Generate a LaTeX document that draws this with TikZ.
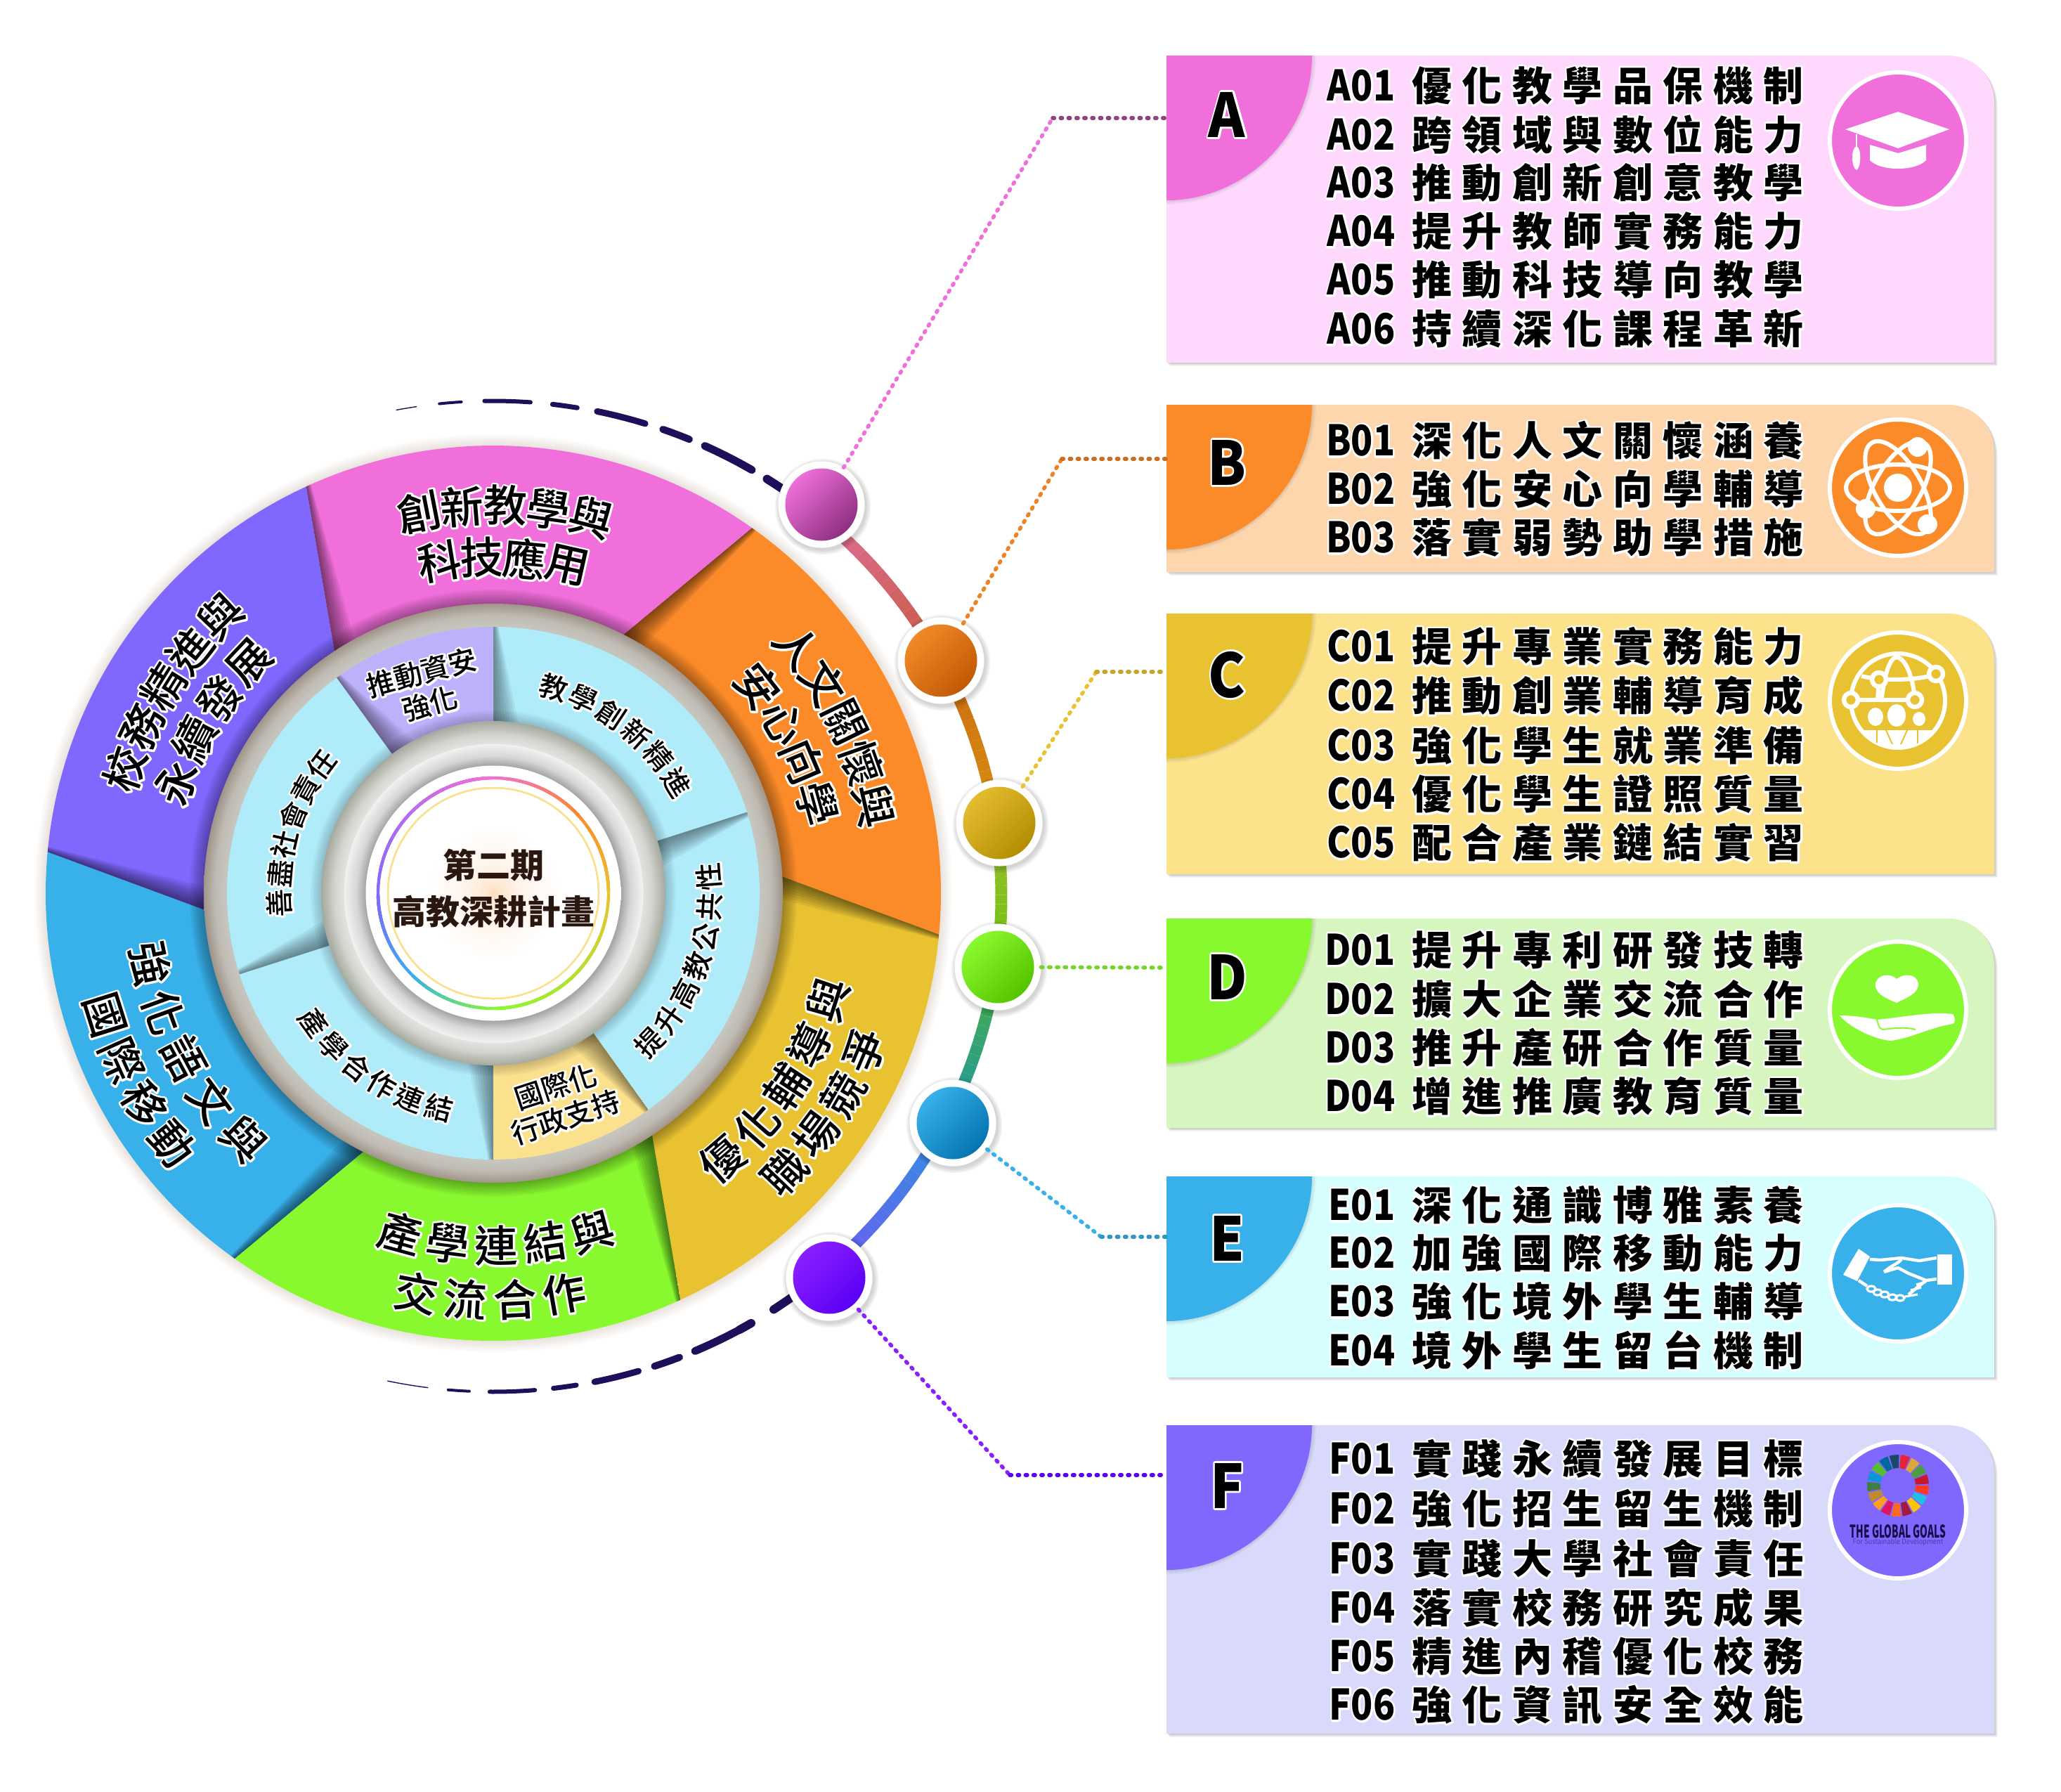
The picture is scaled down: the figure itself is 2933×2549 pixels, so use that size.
\documentclass[tikz,border=0pt]{standalone}
\usepackage{fontspec}
\newfontfamily\cjk{Noto Sans CJK TC}
\newfontfamily\cjkmed{Noto Sans CJK TC Medium}
\newfontfamily\cjkblack{Noto Sans CJK TC Black}
\newfontfamily\spaced{Noto Sans CJK TC}[LetterSpace=25.4]

\definecolor{cA}{HTML}{F06FDB}
\definecolor{cB}{HTML}{FB8A28}
\definecolor{cC}{HTML}{E9C232}
\definecolor{cD}{HTML}{89F92F}
\definecolor{cE}{HTML}{38B0EA}
\definecolor{cF}{HTML}{8067FE}
\definecolor{bgA}{HTML}{FED8FD}
\definecolor{bgB}{HTML}{FDD6AE}
\definecolor{bgC}{HTML}{FDE28C}
\definecolor{bgD}{HTML}{D7F5BE}
\definecolor{bgE}{HTML}{D7FEFF}
\definecolor{bgF}{HTML}{D9D9FC}
\definecolor{sky}{HTML}{B0EBFA}
\definecolor{lav}{HTML}{BDB1FC}
\definecolor{sand}{HTML}{FBE08E}
\definecolor{navy}{HTML}{1F0F5A}
\definecolor{inkbrown}{HTML}{2A1810}
\definecolor{bandA}{HTML}{C6C7C0}
\definecolor{bandB}{HTML}{BFBBB3}
\definecolor{bandC}{HTML}{A09488}
\definecolor{hubA}{HTML}{A5A99D}
\definecolor{hubB}{HTML}{D4D5CF}
\definecolor{hubC}{HTML}{E2E3DF}
\definecolor{hubD}{HTML}{F2F2F2}
\definecolor{hubE}{HTML}{D6D6D6}
\definecolor{hubF}{HTML}{A6A6A6}
\definecolor{glowA}{HTML}{FFDDBE}
\definecolor{glowB}{HTML}{FFE9D6}
\definecolor{glowC}{HTML}{FFF5EC}
\definecolor{dotAa}{HTML}{EE6FD9}\definecolor{dotAb}{HTML}{8E2F80}
\definecolor{dotBa}{HTML}{F08A28}\definecolor{dotBb}{HTML}{C25A05}
\definecolor{dotCa}{HTML}{E4BC30}\definecolor{dotCb}{HTML}{B38E00}
\definecolor{dotDa}{HTML}{8AF92F}\definecolor{dotDb}{HTML}{55C400}
\definecolor{dotEa}{HTML}{38B0EA}\definecolor{dotEb}{HTML}{0474B0}
\definecolor{dotFa}{HTML}{8A1FFF}\definecolor{dotFb}{HTML}{5A00F5}
\definecolor{arcA}{HTML}{E070A0}\definecolor{arcB}{HTML}{C85A40}
\definecolor{arcC}{HTML}{C86810}\definecolor{arcD}{HTML}{D89010}
\definecolor{arcE}{HTML}{A0C030}\definecolor{arcF}{HTML}{6CC010}
\definecolor{arcG}{HTML}{4AB040}\definecolor{arcH}{HTML}{2098A0}
\definecolor{arcI}{HTML}{3090E0}\definecolor{arcJ}{HTML}{6A5FF0}

\pgfdeclareradialshading{bandshade}{\pgfpoint{0bp}{0bp}}{color(0bp)=(bandA);color(23bp)=(bandA);color(24bp)=(bandB);color(25bp)=(bandC);color(50bp)=(bandC)}
\pgfdeclareradialshading{hubshade}{\pgfpoint{0bp}{0bp}}{color(0bp)=(hubF);color(18.6bp)=(hubF);color(19.9bp)=(hubE);color(21.7bp)=(hubD);color(21.75bp)=(hubC);color(23bp)=(hubB);color(25bp)=(hubA);color(50bp)=(hubA)}
\pgfdeclareradialshading{glowshade}{\pgfpoint{0bp}{0bp}}{color(0bp)=(glowA);color(2bp)=(glowB);color(6bp)=(glowC);color(13bp)=(white);color(50bp)=(white)}

% white rim behind a text
\newcommand\halo[1]{\leavevmode\rlap{\special{pdf:code q 1 Tr 2.8 w 1 J 1 j 1 1 1 RG}#1\special{pdf:code Q}}#1}
% colour runs along an elliptic arc
\newcommand\gradarc[7]{%
  \foreach \s in {1,...,16}{
    \pgfmathsetmacro\ta{#3+(#4-#3)*(\s-1)/16}
    \pgfmathsetmacro\tb{#3+(#4-#3)*\s/16}
    \pgfmathsetmacro\mixv{100*\s/16}
    \draw[line width=#7,color={#2!\mixv!#1}] (\ta:#5 and #6) arc[start angle=\ta,end angle=\tb,x radius=#5,y radius=#6];
  }}
% one rotated character after another on a circle
\newcommand\arclabel[7]{%
  \foreach \ch [count=\n from 0] in {#7}{
    \pgfmathsetmacro\aa{#4+#5*\n}
    \pgfmathsetmacro\rr{\aa+#6}
    \node[#2,rotate=\rr] (#1\n) at (\aa:#3) {\halo{\ch}};
  }}
% soft dark wedge along the first edge of a sector
\newcommand\edgeshade[5]{%
  \foreach \d in {4,8,...,36}{
    \pgfmathsetmacro\aia{#1+#2}
    \pgfmathsetmacro\aib{\aia-\d*57.3/#3}
    \pgfmathsetmacro\aob{#1-\d*.2*57.3/#4}
    \fill[black,opacity=#5] (\aia:#3) -- (#1:#4) -- (\aob:#4) -- (\aib:#3) -- cycle;
  }}

\begin{document}
\begin{tikzpicture}
  [x=.5pt,y=-.5pt,
  bigch/.style={font=\cjkmed\fontsize{31}{31}\selectfont,inner sep=0pt},
  smallch/.style={font=\cjkmed\fontsize{20}{20}\selectfont,inner sep=0pt},
  twoline/.style={font=\cjkmed\fontsize{20}{23}\selectfont,inner sep=0pt,align=center},
  hubtext/.style={font=\cjk\bfseries\fontsize{24}{33}\selectfont,text=inkbrown,align=center,inner sep=0pt},
  row/.style={font=\cjk\bfseries\fontsize{28.5}{28.5}\selectfont,anchor=east,inner sep=0pt},
  letter/.style={font=\cjkblack\fontsize{43}{43}\selectfont,inner sep=0pt},
  iconnode/.style={circle,draw=white,line width=3pt,minimum size=97pt,inner sep=0pt},
  dotnode/.style={circle,outer sep=5pt,minimum size=51.5pt,inner sep=0pt},
  leader/.style={line width=2.8pt,line cap=round,dash pattern=on 1.2pt off 4.4pt},
  wire/.style={draw=white,line width=3pt,fill=none},
  glyph/.style={fill=white,draw=none}]
  \useasboundingbox (0,0) rectangle (2933,2549);

  \begin{scope}[shift={(702,1271)},y=.5pt]
    % soft edge of the big disc
    \foreach \k in {1,...,8}
      \fill[brown!60!black,opacity=.02] (0,0) circle[radius=637+2*\k];

    % six outer sectors
    \foreach \ang/\col in {54.7/cB,-5.3/cC,-65.3/cD,-125.3/cE,174.7/cF,114.7/cA}{
      \pgfmathsetmacro\aend{\ang-60}
      \pgfmathsetmacro\ai{\ang+9}
      \pgfmathsetmacro\aj{\aend+9}
      \fill[\col] (\ai:405) -- (\ang:637) arc[start angle=\ang,end angle=\aend,radius=637] -- (\aj:405) -- cycle;
      \begin{scope}
        \clip (\ai:405) -- (\ang:637) arc[start angle=\ang,end angle=\aend,radius=637] -- (\aj:405) -- cycle;
        \edgeshade{\ang}{9}{412}{637}{.07}
      \end{scope}
    }
    \foreach \k in {1,...,8}
      \fill[black,opacity=.045] (0,0) circle[radius=412+2.5*\k];
    \shade[shading=bandshade] (0,0) circle[radius=412];

    % six inner sectors
    \foreach \ang/\aend/\col in {90/17.7/sky,17.7/-54.4/sky,-54.4/-90/sand,-90/-162.3/sky,-162.3/-234/sky,-234/-270/lav}{
      \fill[\col] (0,0) -- (\ang:379) arc[start angle=\ang,end angle=\aend,radius=379] -- cycle;
      \begin{scope}
        \clip (0,0) -- (\ang:379) arc[start angle=\ang,end angle=\aend,radius=379] -- cycle;
        \edgeshade{\ang}{0}{245}{379}{.055}
      \end{scope}
    }
    \foreach \k in {1,...,6}
      \fill[black,opacity=.03] (0,0) circle[radius=245+2.5*\k];

    % hub
    \shade[shading=hubshade] (0,0) circle[radius=245];
    \shade[shading=glowshade] (0,0) circle[radius=181.5];
    \foreach \ca/\cb/\ta/\tb in {cA/cB/90/40,cB/cC/40/0,cC/cD/0/-90,cD/cE/-90/-135,cE/cF/-135/-180,cF/cA/-180/-270}
      \gradarc{\ca}{\cb}{\ta}{\tb}{164}{164}{2.2pt}
    \draw[sand,line width=1pt] (0,0) circle[radius=150];
    \node[hubtext] (hubname) at (0,7) {第二期\\高教深耕計畫};

    % labels of the big ring
    \arclabel{pa}{bigch}{552}{101}{-6.4}{-90}{創,新,教,學,與}
    \arclabel{pb}{bigch}{478}{99.2}{-7.3}{-90}{科,技,應,用}
    \arclabel{oa}{bigch}{556}{39}{-6.5}{-90}{人,文,關,懷,與}
    \arclabel{ob}{bigch}{478}{38}{-7.5}{-90}{安,心,向,學}
    \arclabel{ya}{bigch}{500}{-49.3}{7.9}{90}{優,化,輔,導,與}
    \arclabel{yb}{bigch}{574}{-43.7}{6.87}{90}{職,場,競,爭}
    \arclabel{ga}{bigch}{502}{-105.3}{7.9}{90}{產,學,連,結,與}
    \arclabel{gb}{bigch}{579}{-100.9}{6.97}{90}{交,流,合,作}
    \arclabel{ba}{bigch}{499}{-168.4}{8.25}{90}{強,化,語,文,與}
    \arclabel{bb}{bigch}{580}{-162.6}{6.87}{90}{國,際,移,動}
    \arclabel{va}{bigch}{553}{161.4}{-6.7}{-90}{校,務,精,進,與}
    \arclabel{vb}{bigch}{478}{160.8}{-8.07}{-90}{永,續,發,展}

    % labels of the small ring
    \arclabel{sa}{smallch}{305}{73.6}{-8.5}{-90}{教,學,創,新,精,進}
    \arclabel{sb}{smallch}{308}{-43.7}{8}{90}{提,升,高,教,公,共,性}
    \arclabel{sc}{smallch}{315}{-144.2}{8}{90}{產,學,合,作,連,結}
    \arclabel{sd}{smallch}{305}{182.7}{-7.9}{-90}{善,盡,社,會,責,任}
    \node[twoline,rotate=18] (sandlabel) at (96,-297) {\halo{國際化}\\\halo{行政支持}};
    \node[twoline,rotate=15] (lavlabel) at (-96,292) {\halo{推動資安}\\\halo{強化}};

    % ring round the disc
    \begin{scope}[shift={(0,-4.5)}]
      \gradarc{arcA}{arcB}{50.7}{28.3}{723}{705}{8.5pt}
      \gradarc{arcC}{arcD}{28.3}{8.5}{723}{705}{8.5pt}
      \gradarc{arcE}{arcF}{8.5}{-8.2}{723}{705}{8.5pt}
      \gradarc{arcG}{arcH}{-8.2}{-26.8}{723}{705}{8.5pt}
      \gradarc{arcI}{arcJ}{-26.8}{-49.3}{723}{705}{8.5pt}
      \foreach \ta/\tb/\w in {55.4/57.4/6,59.4/65.4/5.5,67.3/70.5/5,72.6/78.2/4.5,80.5/83.3/3.5,85.8/91/3,93.6/96.1/2,98.7/101/.7}
        \draw[navy,line width=\w pt,line cap=round] (\ta:723 and 705) arc[start angle=\ta,end angle=\tb,x radius=723,y radius=705];
      \foreach \ta/\tb/\w in {-53/-56.5/6,-59.5/-61/6,-61/-66.6/5.5,-68.5/-71.5/5,-73.4/-78.5/4.5,-80.6/-83.2/3.5,-85.3/-90.4/3,-92.7/-95.1/2,-97.4/-102/.7}
        \draw[navy,line width=\w pt,line cap=round] (\ta:723 and 705) arc[start angle=\ta,end angle=\tb,x radius=723,y radius=705];
    \end{scope}
  \end{scope}

  % dots on the ring
  \foreach \nm/\x/\y in {A/1169/718,B/1339/940,C/1422/1171,D/1420/1376,E/1356/1598,F/1180/1818}{
    \foreach \k in {1,...,5}
      \fill[black,opacity=.035] (\x+2,\y+3) circle[radius=61+1.5*\k];
    \fill[white] (\x,\y) circle[radius=61.5];
    \node[dotnode,top color=dot\nm a,bottom color=dot\nm b,shading angle=45] (dot\nm) at (\x,\y) {};
  }

  % cards
  \foreach \nm/\ya/\yb/\yl/\yi/\bg/\fg in {A/79/516/163/200/bgA/cA,B/576/814/658/694/bgB/cB,C/873/1244/960/997/bgC/cC,D/1307/1605/1390/1437/bgD/cD,E/1674/1960/1762/1812/bgE/cE,F/2028/2467/2114/2149/bgF/cF}{
    \pgfmathsetmacro\yc{\ya+68}
    \pgfmathsetmacro\yt{\ya+206}
    \foreach \k in {1,2,3}
      \fill[black,opacity=.07,shift={(1.5*\k,1.5*\k)}] (1660,\ya) -- (2772,\ya) .. controls (2810,\ya) and (2838,\ya+30) .. (2838,\yc) -- (2838,\yb) -- (1660,\yb) -- cycle;
    \fill[\bg] (1660,\ya) -- (2772,\ya) .. controls (2810,\ya) and (2838,\ya+30) .. (2838,\yc) -- (2838,\yb) -- (1660,\yb) -- cycle;
    \begin{scope}
      \clip (1660,\ya) rectangle (2000,\yb);
      \foreach \k in {1,2,3}
        \fill[black,opacity=.035] (1660,\ya) -- (1867+2*\k,\ya) .. controls (1867+2*\k,\ya+115) and (1770,\yt+2*\k) .. (1660,\yt+2*\k) -- cycle;
    \end{scope}
    \fill[\fg] (1660,\ya) -- (1867,\ya) .. controls (1867,\ya+115) and (1770,\yt) .. (1660,\yt) -- cycle;
    \node[letter] (letter\nm) at (1746,\yl) {\scalebox{.92}[1]{\halo{\nm}}};
    \node[iconnode,fill=\fg] (icon\nm) at (2701,\yi) {};
  }

  % item lines
  \foreach \code/\yy/\txt in {A01/122/優化教學品保機制,A02/191/跨領域與數位能力,A03/260/推動創新創意教學,A04/329/提升教師實務能力,A05/398/推動科技導向教學,A06/468/持續深化課程革新,
    B01/627/深化人文關懷涵養,B02/696/強化安心向學輔導,B03/765/落實弱勢助學措施,
    C01/920/提升專業實務能力,C02/990/推動創業輔導育成,C03/1061/強化學生就業準備,C04/1130/優化學生證照質量,C05/1199/配合產業鏈結實習,
    D01/1352/提升專利研發技轉,D02/1422/擴大企業交流合作,D03/1491/推升產研合作質量,D04/1560/增進推廣教育質量,
    E01/1715/深化通識博雅素養,E02/1783/加強國際移動能力,E03/1852/強化境外學生輔導,E04/1921/境外學生留台機制,
    F01/2076/實踐永續發展目標,F02/2147/強化招生留生機制,F03/2218/實踐大學社會責任,F04/2288/落實校務研究成果,F05/2357/精進內稽優化校務,F06/2426/強化資訊安全效能}
    \node[row] (row\code) at (2567,\yy) {\scalebox{.9}[1.05]{\halo{\code}}\hspace{12pt}\halo{\spaced\txt}};

  % dotted leaders
  \coordinate (portA) at (1660,168);  \coordinate (bendA) at (1498,168);
  \coordinate (portB) at (1660,653);  \coordinate (bendB) at (1511,653);
  \coordinate (portC) at (1660,956);  \coordinate (bendC) at (1560,956);
  \coordinate (portD) at (1660,1377);
  \coordinate (portE) at (1660,1760); \coordinate (bendE) at (1567,1760);
  \coordinate (portF) at (1660,2099); \coordinate (bendF) at (1437,2099);
  \draw[leader,cA] (dotA) -- (bendA);
  \draw[leader,cA!60!black] (bendA) -- (portA);
  \draw[leader,cB!95!black] (dotB) -- (bendB);
  \draw[leader,cB!80!black] (bendB) -- (portB);
  \draw[leader,cC] (dotC) -- (bendC);
  \draw[leader,cC!85!black] (bendC) -- (portC);
  \draw[leader,cD!85!black] (dotD) -- (portD);
  \draw[leader,cE] (dotE) -- (bendE);
  \draw[leader,cE!85!black] (bendE) -- (portE);
  \draw[leader,dotFa] (dotF) -- (bendF);
  \draw[leader,dotFb] (bendF) -- (portF);

  % graduation cap
  \begin{scope}[shift={(iconA)},y=.5pt]
    \fill[glyph] (-75,16) -- (0,41) -- (73,16) -- (0,-11) -- cycle;
    \fill[glyph] (-40,-6) -- (0,-18) -- (40,-6) -- (40,-28) .. controls (25,-44) and (-25,-44) .. (-40,-28) -- cycle;
    \draw[white,line width=1.2pt] (-59,9) -- (-59,-12);
    \fill[glyph] (-59,-8) .. controls (-52,-10) and (-52,-38) .. (-59,-42) .. controls (-67,-38) and (-67,-10) .. (-59,-8) -- cycle;
  \end{scope}
  % atom
  \begin{scope}[shift={(iconB)},y=.5pt]
    \foreach \r in {0,60,-60}
      \draw[wire,rotate=\r] (0,0) ellipse[x radius=74,y radius=33];
    \fill[glyph] (0,0) circle[radius=20];
    \fill[glyph] (28,58) circle[radius=14];
    \fill[glyph] (-46,-30) circle[radius=14];
    \fill[glyph] (42,-52) circle[radius=14];
  \end{scope}
  % globe with people
  \begin{scope}[shift={(iconC)},y=.5pt]
    \draw[wire] (0,0) circle[radius=67];
    \draw[wire] (-67,1) -- (24,1);
    \draw[wire] (-52,35) .. controls (-25,28) and (30,28) .. (54,38);
    \draw[wire] (-27,30) -- (-29,1);
    \draw[wire] (-24,-2) .. controls (-20,30) and (-14,60) .. (-2,62) .. controls (12,60) and (22,30) .. (24,1);
    \foreach \px/\py in {-67/1,-27/30,24/1,54/38}{
      \fill[cC] (\px,\py) circle[radius=12];
      \draw[white,line width=3.2pt] (\px,\py) circle[radius=10];
    }
    \fill[glyph] (-32,-23) ellipse[x radius=11,y radius=13];
    \fill[glyph] (-2,-21) ellipse[x radius=13,y radius=16];
    \fill[glyph] (30,-26) ellipse[x radius=9,y radius=10];
    \begin{scope}
      \clip (0,0) circle[radius=67];
      \fill[glyph] (-70,-70) rectangle (70,-42);
      \draw[cC,line width=1pt] (-30,-42) -- (-30,-70) (28,-42) -- (28,-70);
      \draw[cC,line width=1pt] (-18,-40) -- (-8,-62) (14,-40) -- (4,-62);
    \end{scope}
  \end{scope}
  % heart over a hand
  \begin{scope}[shift={(iconD)},y=.5pt]
    \fill[glyph] (-2,10) .. controls (-20,18) and (-34,24) .. (-32,38) .. controls (-28,52) and (-10,52) .. (-2,44) .. controls (8,52) and (26,52) .. (29,38) .. controls (30,24) and (14,18) .. (-2,10) -- cycle;
    \fill[glyph] (-83,-8) .. controls (-60,-8) and (-40,-12) .. (-30,-14) .. controls (10,-10) and (50,-2) .. (78,-6) .. controls (82,-12) and (82,-18) .. (78,-20) .. controls (45,-25) and (20,-40) .. (-10,-44) .. controls (-35,-42) and (-70,-24) .. (-83,-8) -- cycle;
    \draw[cD,line width=1pt] (-30,-14) .. controls (-28,-20) and (-28,-26) .. (-22,-28) .. controls (-5,-26) and (10,-24) .. (25,-28);
  \end{scope}
  % handshake
  \begin{scope}[shift={(iconE)},y=.5pt]
    \fill[glyph] (-56,35) -- (-40,24) -- (-58,-11) -- (-78,-2) -- cycle;
    \fill[glyph] (56,27) rectangle (77,-16);
    \draw[wire,line width=2.2pt,line join=round] (-40,20) -- (-25,19) -- (5,22) -- (30,18) -- (55,22);
    \draw[wire,line width=2.2pt,line join=round] (-20,2) .. controls (-8,12) and (0,14) .. (5,20) (-20,2) -- (0,8) -- (15,0) -- (40,-10) -- (55,-8);
    \draw[wire,line width=2.2pt] (-56,-10) -- (-44,-18) (15,-30) -- (40,-10);
    \foreach \kx/\ky in {-38/-22,-29/-27,-19/-30,-8/-34,3/-35}
      \draw[white,line width=1.6pt] (\kx,\ky) ellipse[x radius=6,y radius=4];
    \draw[white,line width=1.6pt] (10,-33) -- (28,-30) (18,-24) -- (33,-20) (26,-16) -- (40,-12);
  \end{scope}
  % wheel of the global goals
  \begin{scope}[shift={(iconF)},y=.5pt]
    \begin{scope}[shift={(0,35)}]
      \foreach \col [count=\w from 0] in {E5243B,DDA63A,4C9F38,C5192D,FF3A21,26BDE2,FCC30B,A21942,FD6925,DD1367,FD9D24,BF8B2E,3F7E44,0A97D9,56C02B,00689D,19486A}{
        \pgfmathsetmacro\wa{85-\w*360/17}
        \pgfmathsetmacro\wb{\wa-18}
        \definecolor{wedge}{HTML}{\col}
        \fill[wedge] (\wa:25) -- (\wa:44) arc[start angle=\wa,end angle=\wb,radius=44] -- (\wb:25) arc[start angle=\wb,end angle=\wa,radius=25] -- cycle;
      }
    \end{scope}
    \node[inner sep=0pt,text=navy!80!black,font=\cjk\bfseries\fontsize{12.5}{12.5}\selectfont] (goalsname) at (0,-30) {\scalebox{.55}[1]{THE GLOBAL GOALS}};
    \node[inner sep=0pt,text=navy!50!cF,font=\cjk\fontsize{5.2}{5.2}\selectfont] (goalssub) at (0,-46) {\scalebox{.9}[1]{For Sustainable Development}};
  \end{scope}
\end{tikzpicture}
\end{document}
